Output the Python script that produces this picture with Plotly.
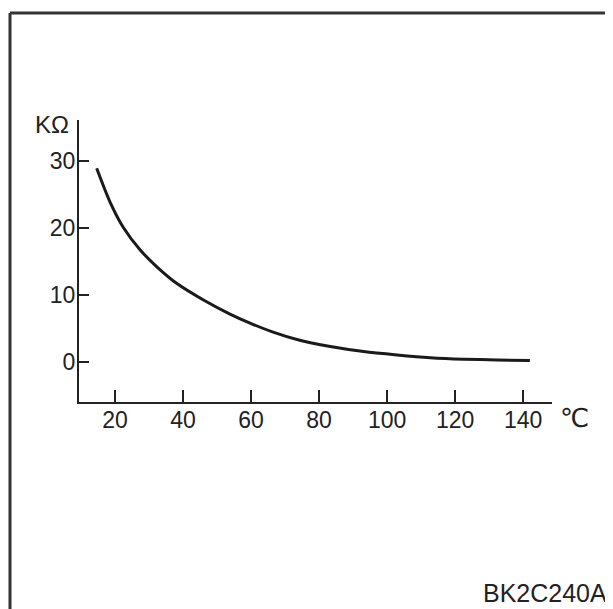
import plotly.graph_objects as go

# thermistor curve
temps = [14.6, 18.5, 22.4, 27.4, 32.3, 38.2, 46.0, 53.8, 59.7, 66.5,
         73.5, 83.3, 93.1, 102.9, 112.7, 122.5, 132.3, 142.0]
resist = [28.9, 23.9, 20.1, 16.7, 14.2, 11.7, 9.25, 7.15, 5.8, 4.45,
          3.35, 2.3, 1.55, 1.05, 0.65, 0.42, 0.3, 0.22]

x_ticks = [20, 40, 60, 80, 100, 120, 140]
y_ticks = [0, 10, 20, 30]

# the page body adds an 8px margin, so work in page pixels minus that
OFF = 8
W, H = 613 - OFF, 609 - OFF
L, T = 79 - OFF, 120 - OFF
R, B = W - (552 - OFF), H - (402 - OFF)
pw, ph = W - L - R, H - T - B


def px(x):
    return (x - OFF - L) / pw


def py(y):
    return (H - B - (y - OFF)) / ph


ink = "#222222"
font = "Liberation Sans, Arial, sans-serif"

fig = go.Figure()
fig.add_trace(go.Scatter(
    x=temps, y=resist, mode="lines",
    line=dict(color="#1a1a1a", width=3, shape="spline", smoothing=0.8),
    showlegend=False, hoverinfo="skip",
))

fig.update_layout(
    width=W, height=H, autosize=False,
    margin=dict(l=L, r=R, t=T, b=B, pad=0),
    paper_bgcolor="white", plot_bgcolor="white",
    font=dict(family=font, color=ink, size=23),
    xaxis=dict(
        range=[9.4, 148.5], tickvals=x_ticks, ticks="inside", ticklen=12,
        tickwidth=2, tickcolor=ink, showline=True, linewidth=2, linecolor=ink,
        showgrid=False, zeroline=False, fixedrange=True, ticklabelstandoff=-4,
    ),
    yaxis=dict(
        range=[-5.97, 36.1], tickvals=y_ticks, ticks="inside", ticklen=10,
        tickwidth=2, tickcolor=ink, showline=True, linewidth=2, linecolor=ink,
        showgrid=False, zeroline=False, fixedrange=True, ticklabelstandoff=-3,
    ),
    annotations=[
        dict(text="KΩ", xref="paper", yref="paper", x=px(33), y=py(124),
             xanchor="left", yanchor="middle", showarrow=False,
             font=dict(size=24, color=ink)),
        dict(text="℃", xref="paper", yref="paper", x=px(558), y=py(418),
             xanchor="left", yanchor="middle", showarrow=False,
             font=dict(size=26, color=ink, family="DejaVu Sans")),
        dict(text="BK2C240A", xref="paper", yref="paper", x=px(609), y=py(593),
             xanchor="right", yanchor="middle", showarrow=False,
             font=dict(size=25, color=ink)),
    ],
    shapes=[
        dict(type="line", xref="paper", yref="paper",
             x0=px(10), y0=py(13), x1=px(640), y1=py(13),
             line=dict(color="#333333", width=3)),
        dict(type="line", xref="paper", yref="paper",
             x0=px(10), y0=py(13), x1=px(10), y1=py(640),
             line=dict(color="#333333", width=3)),
    ],
)

fig.write_html("out.html")
